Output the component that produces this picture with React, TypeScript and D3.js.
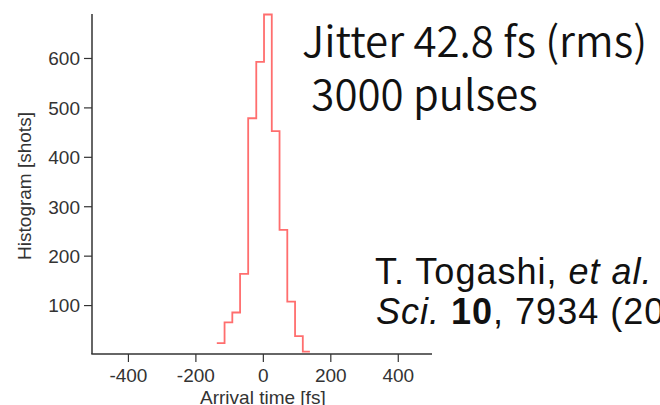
import React from "react";
import * as d3 from "d3";

// Histogram of pulse arrival times: bin edges (fs) and counts per bin (shots)
const binEdges = [-138, -115, -92, -69, -45, -21, 2, 25, 48, 71, 94, 117, 138];
const counts = [24, 66, 86, 164, 479, 593, 689, 453, 253, 108, 38, 7];

const xTicks = [-400, -200, 0, 200, 400];
const yTicks = [100, 200, 300, 400, 500, 600];

const xTitle = "Arrival time [fs]";
const yTitle = "Histogram [shots]";
const noteLines = ["Jitter 42.8 fs (rms)", " 3000 pulses"];

const W = 660;
const H = 405;

export default function App() {
  const x = d3.scaleLinear().domain([-508, 500]).range([92, 432]);
  const y = d3.scaleLinear().domain([2, 690]).range([354, 14]);

  const pts: [number, number][] = binEdges.map((e, i) => [
    e,
    counts[Math.min(i, counts.length - 1)],
  ]);
  const stepPath = d3
    .line<[number, number]>()
    .x((d) => x(d[0]))
    .y((d) => y(d[1]))
    .curve(d3.curveStepAfter)(pts) as string;

  const axisColor = "#333";
  const tickFont = "'Liberation Sans', Arial, Helvetica, sans-serif";
  const fs = 19;
  const noteFont = "'Noto Sans CJK JP', 'Noto Sans', sans-serif";

  return (
    <div style={{ position: "fixed", left: 0, top: 0, width: W, height: H, background: "#fff" }}>
      <svg width={W} height={H} viewBox={`0 0 ${W} ${H}`} style={{ display: "block" }}>
        <rect width={W} height={H} fill="#fff" />

        {/* histogram step line */}
        <path d={stepPath} fill="none" stroke="#ff4a4a" strokeOpacity={0.8} strokeWidth={1.8} />

        {/* y axis */}
        <line x1={92} x2={92} y1={y(690)} y2={354} stroke={axisColor} strokeWidth={1.5} />
        {yTicks.map((t) => (
          <g key={t}>
            <line x1={84} x2={92} y1={y(t)} y2={y(t)} stroke={axisColor} strokeWidth={1.2} />
            <text
              x={80}
              y={y(t)}
              dy="0.36em"
              textAnchor="end"
              fontFamily={tickFont}
              fontSize={fs}
              fill="#333"
            >
              {t}
            </text>
          </g>
        ))}

        {/* x axis */}
        <line x1={91.3} x2={432} y1={354} y2={354} stroke={axisColor} strokeWidth={1.5} />
        {xTicks.map((t) => (
          <g key={t}>
            <line x1={x(t)} x2={x(t)} y1={354} y2={362} stroke={axisColor} strokeWidth={1.2} />
            <text
              x={x(t)}
              y={382}
              textAnchor="middle"
              fontFamily={tickFont}
              fontSize={fs}
              fill="#333"
            >
              {t}
            </text>
          </g>
        ))}

        {/* axis titles */}
        <text x={x(0) - 0.5} y={404} textAnchor="middle" fontFamily={tickFont} fontSize={fs} fill="#333">
          {xTitle}
        </text>
        <text
          transform={`translate(31, 186) rotate(-90)`}
          textAnchor="middle"
          fontFamily={tickFont}
          fontSize={fs}
          fill="#333"
        >
          {yTitle}
        </text>

        {/* annotation */}
        <text x={302} y={57} fontFamily={noteFont} fontWeight={350} fontSize={42} fill="#111">
          {noteLines[0]}
        </text>
        <text
          x={302}
          y={110}
          fontFamily={noteFont}
          fontWeight={350}
          fontSize={42}
          fill="#111"
          style={{ whiteSpace: "pre" }}
        >
          {noteLines[1]}
        </text>

        {/* citation */}
        <text x={375} y={283.5} fontFamily="'Liberation Sans', Arial, sans-serif" fontSize={36} letterSpacing={1} fill="#111">
          T. Togashi, <tspan fontStyle="italic">et al.</tspan>
        </text>
        <text x={376} y={323.5} fontFamily="'Liberation Sans', Arial, sans-serif" fontSize={36} letterSpacing={1} fill="#111">
          <tspan fontStyle="italic">Sci.</tspan> <tspan fontWeight="bold">10</tspan>, 7934 (2020)
        </text>
      </svg>
    </div>
  );
}
